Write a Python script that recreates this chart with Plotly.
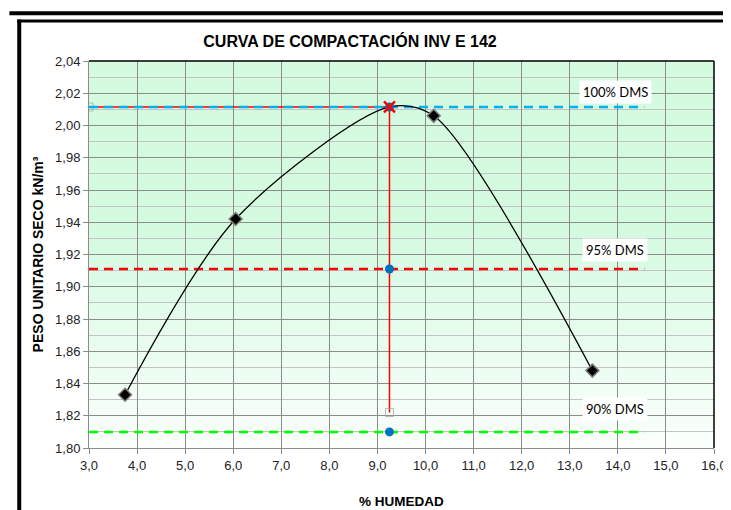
import plotly.graph_objects as go

# ---- data ----
humedad = [3.75, 6.05, 9.25, 10.17, 13.47]
peso = [1.833, 1.942, 2.0115, 2.006, 1.848]
w_opt = 9.25
dms = 2.0115
pct_labels = ["100% DMS", "95% DMS", "90% DMS"]
pct_values = [dms, 1.911, 1.810]
pct_colors = ["#00B0F0", "#FF0000", "#00FF00"]
line_x = [3.0, 14.55]
vert_bottom = 1.822
label_x = 13.95
label_y = [2.0207, 1.9227, 1.824]
x_ticks = [3, 4, 5, 6, 7, 8, 9, 10, 11, 12, 13, 14, 15, 16]
data_pts_x = [3.75, 6.05, 10.17, 13.47]
data_pts_y = [1.833, 1.942, 2.006, 1.848]

W, H = 731, 510
L, R, T, B = 81, 717, 53, 450


def px(x):
    return (x - L) / (R - L)


def py(y):
    return (B - y) / (B - T)


fig = go.Figure()

# red solid guide lines (below)
fig.add_trace(go.Scatter(x=[line_x[0], w_opt], y=[dms, dms], mode="lines+markers",
                         line=dict(color="#FF0000", width=1.5),
                         marker=dict(symbol=["square-open", "circle"], size=[8, 0], color="#A0A0A0"),
                         showlegend=False, hoverinfo="skip"))
fig.add_trace(go.Scatter(x=[w_opt, w_opt], y=[dms, vert_bottom], mode="lines+markers",
                         line=dict(color="#FF0000", width=1.5),
                         marker=dict(symbol=["circle", "square-open"], size=[0, 8], color="#A0A0A0"),
                         showlegend=False, hoverinfo="skip"))

for val, col in zip(pct_values, pct_colors):
    fig.add_trace(go.Scatter(x=line_x, y=[val, val], mode="lines",
                             line=dict(color=col, width=2.5, dash="9px,6px"),
                             showlegend=False, hoverinfo="skip"))

# compaction curve (smooth)
fig.add_trace(go.Scatter(x=humedad, y=peso, mode="lines",
                         line=dict(color="black", width=1.3, shape="spline", smoothing=0.85),
                         showlegend=False))
fig.add_trace(go.Scatter(x=data_pts_x, y=data_pts_y, mode="markers",
                         marker=dict(symbol="diamond", size=10, color="black",
                                     line=dict(color="#808080", width=1.5)),
                         showlegend=False))

# optimum markers
fig.add_trace(go.Scatter(x=[w_opt] * 3, y=pct_values, mode="markers",
                         marker=dict(symbol="circle", size=9, color="#0070C0"),
                         showlegend=False))
fig.add_trace(go.Scatter(x=[w_opt], y=[dms], mode="markers",
                         marker=dict(symbol="x-thin", size=11, color="#FF0000",
                                     line=dict(color="#FF0000", width=2.5)),
                         showlegend=False))

# labels
for txt, ly in zip(pct_labels, label_y):
    fig.add_annotation(x=label_x, y=ly, text=txt, showarrow=False,
                       font=dict(family="Lato, Liberation Sans, sans-serif", size=13, color="#000"),
                       bgcolor="white", borderpad=3)

# gradient background
shapes = []
n = 40
top = (212, 250, 224)
bot = (252, 255, 253)
for i in range(n):
    f0 = i / n
    f1 = (i + 1) / n
    fm = (f0 + f1) / 2  # 0 at top, 1 at bottom
    t = max(0.0, (fm - 0.45) / 0.55)
    c = tuple(int(round(top[k] + (bot[k] - top[k]) * t)) for k in range(3))
    shapes.append(dict(type="rect", xref="x domain", yref="y domain", x0=0, x1=1,
                       y0=1 - f1, y1=1 - f0 + 0.002, line=dict(width=0),
                       fillcolor="rgb(%d,%d,%d)" % c, layer="below"))

# plot area top / right border
shapes.append(dict(type="line", xref="x domain", yref="y domain", x0=0, x1=1, y0=1, y1=1,
                   line=dict(color="black", width=1.5)))
shapes.append(dict(type="line", xref="x domain", yref="y domain", x0=1, x1=1, y0=0, y1=1,
                   line=dict(color="black", width=1.5)))
# outer frame
shapes.append(dict(type="line", xref="paper", yref="paper", x0=px(0), x1=px(W), y0=py(4), y1=py(4),
                   line=dict(color="black", width=4)))
shapes.append(dict(type="line", xref="paper", yref="paper", x0=px(8), x1=px(W), y0=py(12), y1=py(12),
                   line=dict(color="black", width=3)))
shapes.append(dict(type="line", xref="paper", yref="paper", x0=px(10), x1=px(10), y0=py(10.5), y1=py(H + 5),
                   line=dict(color="black", width=4)))

fig.update_layout(
    width=W, height=H,
    margin=dict(l=L, r=W - R, t=T, b=H - B),
    paper_bgcolor="white", plot_bgcolor="white",
    separators=",.",
    shapes=shapes,
    title=dict(text="<b>CURVA DE COMPACTACIÓN INV E 142</b>", x=342 / W, xanchor="center",
               y=1 - 33 / H, yanchor="middle",
               font=dict(family="Arial, Liberation Sans, sans-serif", size=16, color="black")),
    font=dict(family="Arial, Liberation Sans, sans-serif", size=12, color="#222"),
)

tickfont = dict(family="Arial, Liberation Sans, sans-serif", size=13, color="#222")
fig.update_xaxes(range=[3, 16], tickvals=x_ticks, tickformat=".1f", tickfont=tickfont,
                 showgrid=True, gridcolor="#8C8C8C", gridwidth=1,
                 showline=True, linecolor="#8C8C8C", linewidth=1,
                 ticks="outside", ticklen=5, tickcolor="#8C8C8C",
                 zeroline=False,
                 title=dict(text="<b>% HUMEDAD</b>", standoff=24,
                            font=dict(size=13.5, color="black")))
fig.update_yaxes(range=[1.80, 2.04], dtick=0.02, tick0=1.80, tickformat=".2f", tickfont=tickfont,
                 showgrid=True, gridcolor="#8C8C8C", gridwidth=1,
                 minor=dict(dtick=0.01, showgrid=True, gridcolor="#C4C4C4", gridwidth=1),
                 showline=True, linecolor="#8C8C8C", linewidth=1,
                 ticks="outside", ticklen=5, tickcolor="#8C8C8C",
                 zeroline=False,
                 title=dict(text="<b>PESO UNITARIO SECO kN/m³</b>", standoff=8,
                            font=dict(size=14, color="black")))

fig.write_html("out.html")
